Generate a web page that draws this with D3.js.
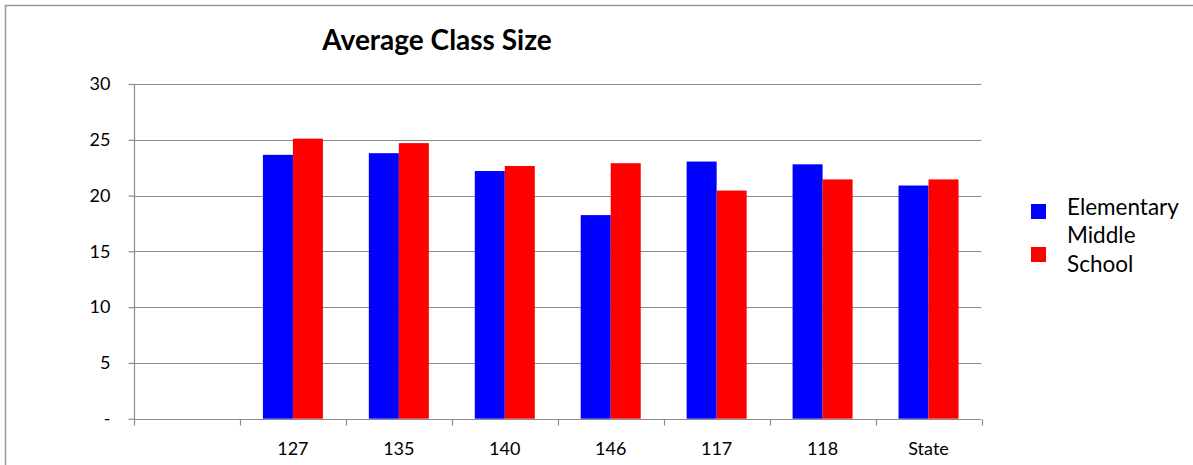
<!DOCTYPE html>
<html><head><meta charset="utf-8">
<script src="https://cdn.jsdelivr.net/npm/d3@7"></script>
<style>body{margin:0;background:#fff}svg{display:block}text{font-family:Lato,"Open Sans",sans-serif;fill:#000}</style>
</head><body><svg id="c" width="1193" height="465"></svg>
<script>
const categories = ["", "127", "135", "140", "146", "117", "118", "State"];
const seriesNames = ["Elementary", "Middle School"];
const elementary = [null, 23.65, 23.8, 22.2, 18.25, 23.05, 22.8, 20.9];
const middle = [null, 25.1, 24.7, 22.65, 22.9, 20.45, 21.45, 21.45];
const yTicks = [0, 5, 10, 15, 20, 25, 30];
const yTickLabels = ["-", "5", "10", "15", "20", "25", "30"];
const colors = ["#0000FF", "#FF0000"];

const svg = d3.select("#c");
const L = 134, R = 981.5, T = 84, B = 418.7;

// outer frame (top and left visible)
svg.append("path").attr("d", `M5.5,465 L5.5,5.5 L1193,5.5`).attr("fill","none").attr("stroke","#999").attr("stroke-width",1.5);

const x = d3.scaleBand().domain(categories).range([L, R]).paddingInner(0).paddingOuter(0);
const x1 = d3.scaleBand().domain(seriesNames).range([0, x.bandwidth()]).paddingInner(0).paddingOuter(0.765);
const y = d3.scaleLinear().domain([0, 30]).range([B, T]);

// gridlines
svg.append("g").selectAll("line").data(yTicks.filter(d=>d>0)).join("line")
  .attr("x1", L).attr("x2", R).attr("y1", d=>Math.round(y(d))+0.5).attr("y2", d=>Math.round(y(d))+0.5)
  .attr("stroke", "#8c8c8c").attr("stroke-width", 1.2);

// bars
const data = categories.map((c,i)=>({c, vals:[elementary[i], middle[i]]}));
const g = svg.append("g");
data.forEach(d=>{
  d.vals.forEach((v,j)=>{
    if (v==null) return;
    g.append("rect").attr("x", x(d.c)+x1(seriesNames[j])).attr("y", y(v))
      .attr("width", x1.bandwidth()).attr("height", y(0)-y(v)).attr("fill", colors[j]);
  });
});

// y axis
const yAxis = d3.axisLeft(y).tickValues(yTicks).tickSize(6).tickPadding(18).tickFormat((d,i)=>yTickLabels[i]);
const ya = svg.append("g").attr("transform", `translate(${L+0.5},0)`).call(yAxis);
ya.select(".domain").attr("stroke","#8c8c8c").attr("stroke-width",1.2).attr("d", `M0,${T}V${B}`);
ya.selectAll(".tick line").attr("stroke","#8c8c8c").attr("stroke-width",1.2);
ya.selectAll("text").style("font-family","Lato,sans-serif").style("font-size","18px").attr("fill","#000");

// x axis with ticks at category boundaries
const xa = svg.append("g").attr("transform", `translate(0,${Math.round(B)+0.5})`);
xa.append("line").attr("x1", L).attr("x2", R).attr("stroke","#8c8c8c").attr("stroke-width",1.2);
const bounds = categories.map(c=>x(c)).concat([x(categories[categories.length-1])+x.bandwidth()]);
xa.selectAll("line.tk").data(bounds).join("line").attr("class","tk")
  .attr("x1", d=>Math.round(d)+0.5).attr("x2", d=>Math.round(d)+0.5).attr("y1",0).attr("y2",6)
  .attr("stroke","#8c8c8c").attr("stroke-width",1.2);
xa.selectAll("text").data(categories).join("text")
  .attr("x", d=>x(d)+x.bandwidth()/2).attr("y", 35).attr("text-anchor","middle")
  .style("font-size","18px").text(d=>d);

// title
svg.append("text").attr("x", 437).attr("y", 50).attr("text-anchor","middle")
  .style("font-size","28px").style("font-weight","bold").text("Average Class Size");

// legend
const leg = svg.append("g");
leg.append("rect").attr("x",1031).attr("y",204).attr("width",15).attr("height",15).attr("fill",colors[0]);
leg.append("rect").attr("x",1031).attr("y",247).attr("width",15).attr("height",15).attr("fill",colors[1]);
leg.append("text").attr("x",1067).attr("y",215).style("font-size","22.5px").text(seriesNames[0]);
const mt = leg.append("text").attr("x",1067).attr("y",243).style("font-size","22.5px");
mt.append("tspan").attr("x",1067).text("Middle");
mt.append("tspan").attr("x",1067).attr("dy",28.5).text("School");
</script></body></html>
